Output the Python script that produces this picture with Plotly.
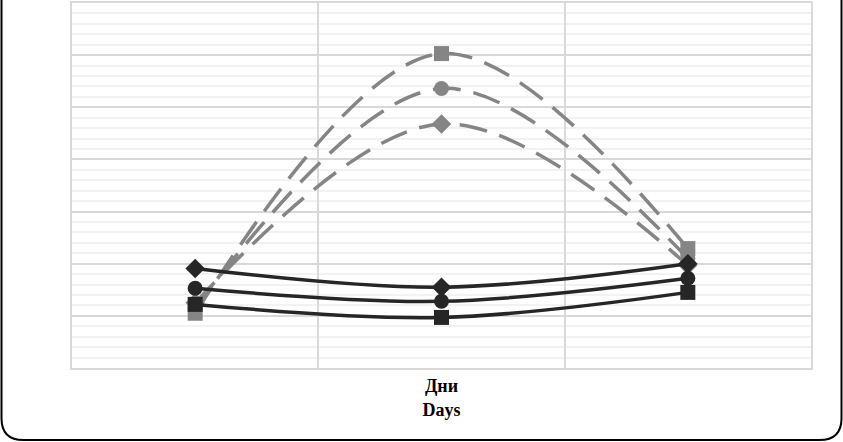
import plotly.graph_objs as go

days = ["1", "2", "3"]

# gray dashed series
gray_square = [1.05, 6.03, 2.29]
gray_circle = [1.15, 5.36, 2.10]
gray_diamond = [1.25, 4.68, 1.97]

# black solid series
black_diamond = [1.91, 1.55, 2.00]
black_circle = [1.53, 1.28, 1.72]
black_square = [1.22, 0.97, 1.45]

GRAY = "#858585"
BLACK = "#262626"

W, H = 843, 442
L, R, T, B = 72, 32, 1, 74
pw, ph = W - L - R, H - T - B


def px(x):
    return (x - L) / pw


def py(y):
    return (H - B - y) / ph


def line_trace(y, color, symbol, size, dash):
    return go.Scatter(
        x=days, y=y, mode="lines+markers",
        line=dict(color=color, width=3.5, shape="spline", smoothing=1, dash=dash),
        marker=dict(symbol=symbol, size=size, color=color),
        showlegend=False, hoverinfo="y",
    )


traces = [
    line_trace(gray_square, GRAY, "square", 15, "28px,13px"),
    line_trace(gray_circle, GRAY, "circle", 15, "28px,13px"),
    line_trace(gray_diamond, GRAY, "diamond", 15, "28px,13px"),
    line_trace(black_diamond, BLACK, "diamond", 15, "solid"),
    line_trace(black_circle, BLACK, "circle", 15, "solid"),
    line_trace(black_square, BLACK, "square", 15, "solid"),
]

# rounded frame around the figure (top edge is outside the picture)
r = 22
x0, x1, yb, yt = 1.5, 841.5, 440.5, -30
frame = (
    f"M {px(x0)},{py(yt)} L {px(x0)},{py(yb - r)} "
    f"Q {px(x0)},{py(yb)} {px(x0 + r)},{py(yb)} "
    f"L {px(x1 - r)},{py(yb)} "
    f"Q {px(x1)},{py(yb)} {px(x1)},{py(yb - r)} "
    f"L {px(x1)},{py(yt)}"
)

layout = go.Layout(
    width=W, height=H,
    margin=dict(l=L, r=R, t=T, b=B),
    paper_bgcolor="white", plot_bgcolor="white",
    xaxis=dict(
        type="category", range=[-0.5, 2.5], tickson="boundaries",
        showticklabels=False, ticks="",
        showgrid=True, gridcolor="#d9d9d9", gridwidth=1.5,
        showline=True, linecolor="#d9d9d9", linewidth=1.5, mirror=True,
        zeroline=False,
        title=dict(
            text="<b>Дни</b><br><b>Days</b>",
            font=dict(family="Liberation Serif", size=18, color="black"),
            standoff=11,
        ),
    ),
    yaxis=dict(
        range=[0, 7], dtick=1, showticklabels=False, ticks="",
        showgrid=True, gridcolor="#d9d9d9", gridwidth=1.5,
        minor=dict(dtick=0.2, showgrid=True, gridcolor="#f2f2f2", gridwidth=1.5),
        showline=True, linecolor="#d9d9d9", linewidth=1.5, mirror=True,
        zeroline=False,
    ),
    shapes=[dict(
        type="path", xref="paper", yref="paper", path=frame,
        line=dict(color="black", width=2), layer="above",
    )],
)

fig = go.Figure(data=traces, layout=layout)
fig.write_html("out.html", config={"displayModeBar": False},
               post_script="document.body.style.margin='0px';")
